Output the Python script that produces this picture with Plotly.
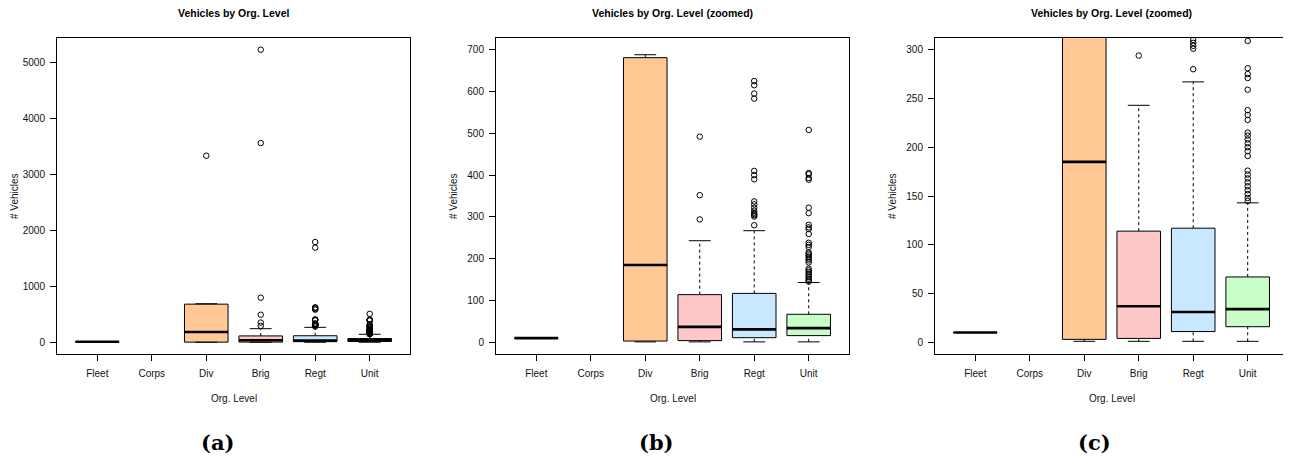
import plotly.graph_objects as go

# ---------------- data ----------------
categories = ["Fleet", "Corps", "Div", "Brig", "Regt", "Unit"]
q1 = [10, None, 3, 4, 11, 16]
medians = [10, None, 185, 37, 31, 34]
q3 = [10, None, 681, 114, 117, 67]
lower_whisker = [10, None, 1, 1, 1, 1]
upper_whisker = [10, None, 688, 243, 267, 143]

div_outliers = [3331]
brig_outliers = [294, 352, 492, 796, 3557, 5224]
regt_outliers = [280, 301, 304, 307, 310, 315, 322, 330, 337, 390, 400, 410,
                 583, 595, 615, 625, 1690, 1790]
unit_outliers = [145, 148, 152, 156, 160, 164, 168, 172, 176, 191, 196, 200,
                 204, 208, 212, 215, 228, 233, 238, 259, 271, 275, 281, 309,
                 322, 389, 393, 402, 405, 508]

fill_colors = ["#FFC894", "#FFC8C8", "#C8E8FF", "#C8FFC8"]  # Div, Brig, Regt, Unit

panel_titles = ["Vehicles by Org. Level", "Vehicles by Org. Level (zoomed)",
                "Vehicles by Org. Level (zoomed)"]
panel_captions = ["(a)", "(b)", "(c)"]
y_ranges = [[-209, 5433], [-28, 728], [-12, 312]]
y_dticks = [1000, 100, 50]

# ---------------- layout geometry ----------------
OFF = 8  # page body margin of the html page
W, H = 1291 - OFF, 459 - OFF
left_px = [57 - OFF, 496 - OFF, 935 - OFF]
plot_w = 353
top_px, bot_px = 38 - OFF, 354 - OFF
box_width = 0.8
cap_width = 0.4

outliers = {"Div": div_outliers, "Brig": brig_outliers,
            "Regt": regt_outliers, "Unit": unit_outliers}
fills = {"Fleet": "#FFFFFF", "Div": fill_colors[0], "Brig": fill_colors[1],
         "Regt": fill_colors[2], "Unit": fill_colors[3]}

fig = go.Figure()
FONT = "Liberation Sans, Arial, Helvetica, sans-serif"

for p in range(3):
    xa = "x" if p == 0 else f"x{p+1}"
    ya = "y" if p == 0 else f"y{p+1}"
    for i, cat in enumerate(categories):
        if medians[i] is None:
            continue
        pos = i + 1
        # box body
        fig.add_trace(go.Box(
            x=[pos], q1=[q1[i]], median=[medians[i]], q3=[q3[i]],
            lowerfence=[q1[i]], upperfence=[q3[i]],
            width=box_width, whiskerwidth=0, boxpoints=False,
            fillcolor=fills[cat], line=dict(color="black", width=1),
            xaxis=xa, yaxis=ya, showlegend=False, hoverinfo="skip"))
        # dashed whiskers
        for a, b in [(q3[i], upper_whisker[i]), (lower_whisker[i], q1[i])]:
            if a != b:
                fig.add_trace(go.Scatter(
                    x=[pos, pos], y=[a, b], mode="lines",
                    line=dict(color="black", width=1, dash="3px,3px"),
                    xaxis=xa, yaxis=ya, showlegend=False, hoverinfo="skip"))
        # caps
        for v in [upper_whisker[i], lower_whisker[i]]:
            fig.add_trace(go.Scatter(
                x=[pos - cap_width / 2, pos + cap_width / 2], y=[v, v],
                mode="lines", line=dict(color="black", width=1),
                xaxis=xa, yaxis=ya, showlegend=False, hoverinfo="skip"))
        # thick median
        fig.add_trace(go.Scatter(
            x=[pos - box_width / 2, pos + box_width / 2],
            y=[medians[i], medians[i]], mode="lines",
            line=dict(color="black", width=2.6),
            xaxis=xa, yaxis=ya, showlegend=False, hoverinfo="skip"))
        # outliers
        if cat in outliers:
            vals = outliers[cat]
            fig.add_trace(go.Scatter(
                x=[pos] * len(vals), y=vals, mode="markers",
                marker=dict(symbol="circle-open", size=5.5, color="black",
                            line=dict(width=1, color="black")),
                xaxis=xa, yaxis=ya, showlegend=False, hoverinfo="skip"))

layout = dict(
    width=W, height=H, margin=dict(l=0, r=0, t=0, b=0),
    paper_bgcolor="white", plot_bgcolor="white", showlegend=False,
    font=dict(family=FONT, size=10, color="black"),
)
annotations = []
for p in range(3):
    key = "" if p == 0 else str(p + 1)
    x0 = left_px[p] / W
    x1 = (left_px[p] + plot_w) / W
    layout["xaxis" + key] = dict(
        domain=[x0, x1], range=[0.26, 6.74], tickmode="array",
        tickvals=list(range(1, 7)), ticktext=categories,
        showline=True, mirror=True, linecolor="black", linewidth=1,
        ticks="outside", ticklen=6, tickcolor="black", showgrid=False,
        zeroline=False, ticklabelstandoff=4,
        tickfont=dict(family=FONT, size=10, color="#111"),
        anchor="y" + key)
    layout["yaxis" + key] = dict(
        domain=[1 - bot_px / H, 1 - top_px / H], range=y_ranges[p],
        tickmode="linear", tick0=0, dtick=y_dticks[p],
        showline=True, mirror=True, linecolor="black", linewidth=1,
        ticks="outside", ticklen=6, tickcolor="black", showgrid=False,
        zeroline=False, ticklabelstandoff=3,
        tickfont=dict(family=FONT, size=10, color="#111"),
        anchor="x" + key)
    cx = (left_px[p] + plot_w / 2) / W
    annotations.append(dict(text="<b>" + panel_titles[p] + "</b>", x=cx,
                            y=1 - (13 - OFF) / H,
                            xref="paper", yref="paper", showarrow=False,
                            xanchor="center", yanchor="middle",
                            font=dict(family=FONT, size=10.5, color="black")))
    annotations.append(dict(text="Org. Level", x=cx, y=1 - (398 - OFF) / H,
                            xref="paper", yref="paper", showarrow=False,
                            xanchor="center", yanchor="middle",
                            font=dict(family=FONT, size=10, color="#111")))
    annotations.append(dict(text="# Vehicles", x=(left_px[p] - 43) / W,
                            y=1 - ((top_px + bot_px) / 2) / H,
                            xref="paper", yref="paper", showarrow=False,
                            textangle=-90, xanchor="center", yanchor="middle",
                            font=dict(family=FONT, size=10, color="#111")))
    cap_x = ([217, 656, 1094][p] - OFF) / W
    annotations.append(dict(text="<b>" + panel_captions[p] + "</b>", x=cap_x,
                            y=1 - (442 - OFF) / H, xref="paper", yref="paper",
                            showarrow=False, xanchor="center", yanchor="middle",
                            font=dict(family="DejaVu Serif, serif", size=21,
                                      color="black")))
layout["annotations"] = annotations
fig.update_layout(**layout)

fig.write_html("out.html")
